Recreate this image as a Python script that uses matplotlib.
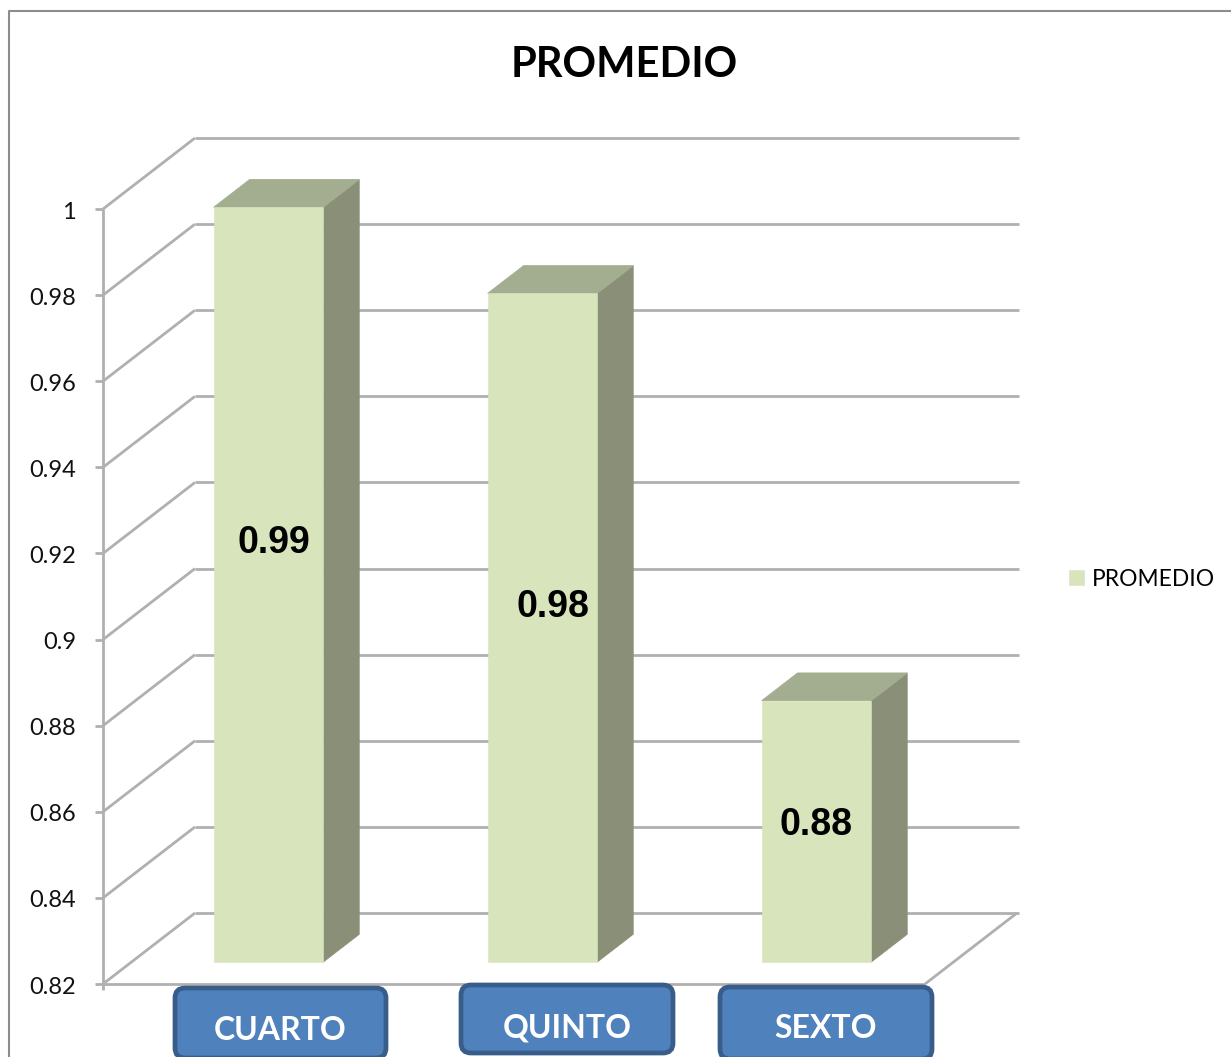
import matplotlib
matplotlib.use("Agg")
import matplotlib.pyplot as plt
from matplotlib.patches import FancyBboxPatch, Polygon

# values
categories = ['CUARTO', 'QUINTO', 'SEXTO']
promedio = [0.9953, 0.9753, 0.8807]
value_labels = ['0.99', '0.98', '0.88']
y_ticks = [0.82, 0.84, 0.86, 0.88, 0.9, 0.92, 0.94, 0.96, 0.98, 1]
y_tick_labels = ['0.82', '0.84', '0.86', '0.88', '0.9', '0.92', '0.94', '0.96', '0.98', '1']

W, H = 1231, 1057
LEFT, RIGHT, TOP, BOTTOM = 103, 925, 209, 984  # front plane, pixels

fig = plt.figure(figsize=(W / 100, H / 100), dpi=100)
ax = fig.add_axes([LEFT / W, 1 - BOTTOM / H, (RIGHT - LEFT) / W, (BOTTOM - TOP) / H])
ax.set_xlim(0, 3)
ax.set_ylim(0.82, 1.0)
ax.axis('off')

# depth of the fake 3d box, in data units
DX = 92 / ((RIGHT - LEFT) / 3)
DY = 71 / ((BOTTOM - TOP) / 0.18)
GRID = '#b0b0b0'


def proj(x, y, depth=0.0):
    return x + depth * DX, y + depth * DY


def line(p0, p1, **kw):
    ax.plot([p0[0], p1[0]], [p0[1], p1[1]], color=GRID, lw=2.0, clip_on=False,
            solid_capstyle='butt', **kw)


# walls
for t in y_ticks:
    line(proj(0, t), proj(0, t, 1), zorder=1)
    line(proj(0, t, 1), proj(3 + 2 / 274, t, 1), zorder=1)
    line((-8 / 274, t), (0, t), zorder=1)
line((0, 0.82), (0, 1.0), zorder=2)
line((0, 0.8186), (0, 0.82), zorder=2)
line((0, 0.82), (3, 0.82), zorder=2)
line((3, 0.82), proj(3, 0.82, 1), zorder=2)

# bars
BAR_W = 0.4
D0, D1 = 0.31, 0.70
for i, v in enumerate(promedio):
    x0, x1 = i + 0.5 - BAR_W / 2, i + 0.5 + BAR_W / 2
    base = 0.82
    front = [proj(x0, base, D0), proj(x1, base, D0), proj(x1, v, D0), proj(x0, v, D0)]
    side = [proj(x1, base, D0), proj(x1, base, D1), proj(x1, v, D1), proj(x1, v, D0)]
    top = [proj(x0, v, D0), proj(x1, v, D0), proj(x1, v, D1), proj(x0, v, D1)]
    ax.add_patch(Polygon(side, fc='#8a9078', ec='#8a9078', lw=0.6, zorder=3, clip_on=False))
    ax.add_patch(Polygon(top, fc='#a3ad8f', ec='#a3ad8f', lw=0.6, zorder=3, clip_on=False))
    ax.add_patch(Polygon(front, fc='#d7e4bc', ec='#d7e4bc', lw=0.4, zorder=4, clip_on=False,
                         label='PROMEDIO' if i == 0 else None))

for t, lab in zip(y_ticks, y_tick_labels):
    ax.text(-27 / 274, t - 0.0007, lab, ha='right', va='center', fontsize=17,
            family='Lato', color='#111111')

leg = ax.legend(loc='center left', bbox_to_anchor=(1069 / W, 1 - 579 / H),
                bbox_transform=fig.transFigure, frameon=False,
                prop={'family': 'Lato', 'size': 16.4},
                handlelength=0.66, handleheight=0.66, handletextpad=0.33, borderpad=0,
                borderaxespad=0)

# overlay in pixel coordinates: frame, title, labels and the blue boxes
ov = fig.add_axes([0, 0, 1, 1], facecolor='none')
ov.set_xlim(0, W)
ov.set_ylim(H, 0)
ov.axis('off')

ov.plot([9, 9, W], [H, 11, 11], color='#8c8c8c', lw=1.5)
ov.text(624, 65, 'PROMEDIO', ha='center', va='center', fontsize=30,
        fontweight='bold', family='Lato', color='black')

label_pos = [(274, 543), (553, 607), (816, 825)]
for (x, y), lab in zip(label_pos, value_labels):
    ov.text(x, y, lab, ha='center', va='center', fontsize=27, fontweight='bold',
            family='Liberation Sans', color='black')

boxes = [(175, 988, 211, 70), (461, 985, 212, 68), (720, 987, 212, 72)]
text_y = [1030, 1028, 1029]
for (x, y, w, h), name, ty in zip(boxes, categories, text_y):
    ov.add_patch(FancyBboxPatch((x + 8, y + 8), w - 16, h - 16,
                                boxstyle='round,pad=8,rounding_size=10',
                                fc='#4f81bd', ec='#385d8a', lw=3.4, zorder=5))
    ov.text(x + w / 2, ty, name, ha='center', va='center', fontsize=23,
            fontweight='bold', family='Lato', color='white', zorder=6)

fig.savefig('out.png', dpi=100)
plt.close(fig)
